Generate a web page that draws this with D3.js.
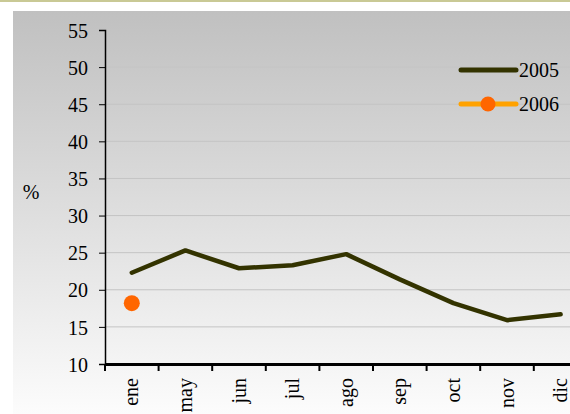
<!DOCTYPE html>
<html>
<head>
<meta charset="utf-8">
<script src="https://cdn.jsdelivr.net/npm/d3@7"></script>
<style>
  body { margin: 0; background: #fff; }
  svg text { font-family: "Times New Roman", "Liberation Serif", "DejaVu Serif", serif; fill: #000; }
</style>
</head>
<body>
<svg width="570" height="414"></svg>
<script>
// data
let months = ["ene", "may", "jun", "jul", "ago", "sep", "oct", "nov", "dic"];
let values2005 = [22.3, 25.3, 22.9, 23.3, 24.8, 21.4, 18.2, 15.9, 16.7];
let values2006 = [18.2];
let yTicks = [10, 15, 20, 25, 30, 35, 40, 45, 50, 55];

let svg = d3.select("svg");
let fs = "20px";

// background bits
svg.append("rect").attr("x", 0).attr("y", 0).attr("width", 570).attr("height", 2).attr("fill", "#c9c995");

let grad = svg.append("defs").append("linearGradient")
    .attr("id", "bg").attr("x1", 0).attr("y1", 0).attr("x2", 0).attr("y2", 1);
grad.append("stop").attr("offset", "0%").attr("stop-color", "#c0c0c0");
grad.append("stop").attr("offset", "100%").attr("stop-color", "#fcfcfc");
svg.append("rect").attr("x", 13).attr("y", 11).attr("width", 557).attr("height", 403).attr("fill", "url(#bg)");

let x = d3.scaleBand().domain(months).range([105, 587.4]);
let y = d3.scaleLinear().domain([10, 55]).range([364, 30]);

// gridlines
svg.append("g").selectAll("line")
    .data(yTicks.filter(d => d > 10 && d < 55))
    .enter().append("line")
    .attr("x1", 105).attr("x2", 570)
    .attr("y1", d => y(d)).attr("y2", d => y(d))
    .attr("stroke", "#c4c4c4").attr("stroke-width", 1);

// y axis
let yAxis = svg.append("g")
    .attr("transform", "translate(105,0)")
    .call(d3.axisLeft(y).tickValues(yTicks).tickSize(6).tickPadding(11));
yAxis.attr("font-family", null).attr("font-size", fs);
yAxis.select(".domain").attr("stroke", "#000").attr("stroke-width", 1.5);
yAxis.selectAll(".tick line").attr("stroke", "#000");
yAxis.selectAll("text").attr("dy", "0.36em");

// x axis
let xAxis = svg.append("g")
    .attr("transform", "translate(0,364)")
    .call(d3.axisBottom(x).tickSize(0).tickSizeOuter(0));
xAxis.attr("font-family", null).attr("font-size", fs);
xAxis.select(".domain").attr("stroke", "#000").attr("stroke-width", 3);
xAxis.selectAll("text")
    .attr("transform", "rotate(-90)")
    .attr("text-anchor", "end")
    .attr("x", -14).attr("y", 0).attr("dy", "0.33em");
// tick marks at the category boundaries
svg.append("g").selectAll("line")
    .data(months)
    .enter().append("line")
    .attr("x1", d => x(d)).attr("x2", d => x(d))
    .attr("y1", 364).attr("y2", 371)
    .attr("stroke", "#000").attr("stroke-width", 2);

svg.append("text").attr("x", 31).attr("y", 199).attr("font-size", fs).attr("text-anchor", "middle").text("%");

// 2005 series
let line = d3.line()
    .x((d, i) => x(months[i]) + x.bandwidth() / 2)
    .y(d => y(d));
svg.append("path").datum(values2005)
    .attr("d", line)
    .attr("fill", "none").attr("stroke", "#333300").attr("stroke-width", 4.5)
    .attr("stroke-linejoin", "round").attr("stroke-linecap", "round");

// 2006 series
svg.append("g").selectAll("circle")
    .data(values2006)
    .enter().append("circle")
    .attr("cx", (d, i) => x(months[i]) + x.bandwidth() / 2)
    .attr("cy", d => y(d))
    .attr("r", 8).attr("fill", "#ff6600");

// legend
let legend = svg.append("g");
legend.append("line").attr("x1", 461).attr("x2", 516).attr("y1", 70).attr("y2", 70)
    .attr("stroke", "#333300").attr("stroke-width", 5).attr("stroke-linecap", "round");
legend.append("text").attr("x", 519).attr("y", 77).attr("font-size", fs).text("2005");
legend.append("line").attr("x1", 461).attr("x2", 516).attr("y1", 104).attr("y2", 104)
    .attr("stroke", "#ffa200").attr("stroke-width", 5).attr("stroke-linecap", "round");
legend.append("circle").attr("cx", 488).attr("cy", 104).attr("r", 7.5).attr("fill", "#ff6600");
legend.append("text").attr("x", 519).attr("y", 111).attr("font-size", fs).text("2006");
</script>
</body>
</html>
